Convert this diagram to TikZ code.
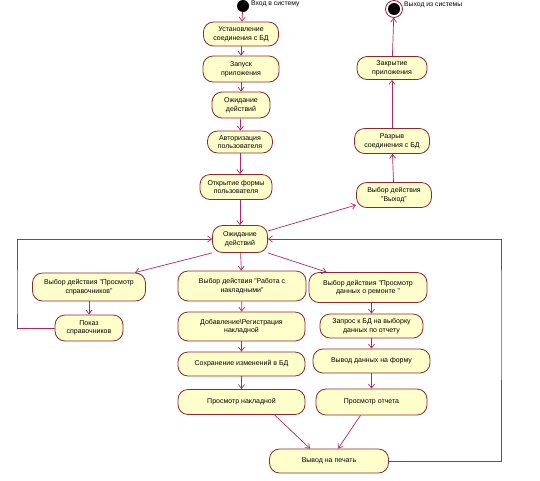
\documentclass[tikz,border=0pt]{standalone}
\usepackage{fontspec}
\setmainfont{Liberation Sans}
\usepackage{tikz}
\usetikzlibrary{arrows.meta,positioning,calc}
\usepackage{xcolor}
\definecolor{linecol}{RGB}{176,40,100}
\definecolor{boxline}{RGB}{140,40,50}
\definecolor{boxfill}{RGB}{255,255,204}

\begin{document}
\begin{tikzpicture}[
        x=1pt, y=-1pt,
        act/.style={draw=boxline, fill=boxfill, rounded corners=10pt, align=center, line width=0.8pt,
            font=\fontsize{7}{8.6}\selectfont, inner sep=1pt},
        flow/.style={draw=linecol, line width=0.7pt, -{Straight Barb[length=4pt,width=6pt]}},
        lbl/.style={font=\fontsize{6.8}{8}\selectfont, anchor=west, inner sep=1pt}
    ]
    \useasboundingbox (0,0) rectangle (540,480);

    \fill (243,6) circle (6pt) node (start) [circle, minimum size=12pt, inner sep=0pt] {};
    \node[lbl] (startlbl) at (250,4) {Вход в систему};
    \draw[boxline, line width=0.8pt, fill=white] (394,9) circle (8.5pt);
    \fill (394,9) circle (6pt) node (stop) [circle, minimum size=17pt, inner sep=0pt] {};
    \node[lbl] (stoplbl) at (403,5) {Выход из системы};

    \node[act, minimum width=75pt, minimum height=24pt] (conn) at (241,34) {Установление\\ соединения с БД};
    \node[act, minimum width=76pt, minimum height=26pt] (launch) at (241,69) {Запуск\\ приложения};
    \node[act, minimum width=58pt, minimum height=26pt] (wait) at (241,105) {Ожидание\\ действий};
    \node[act, minimum width=65pt, minimum height=22pt] (auth) at (240,142) {Авторизация\\ пользователя};
    \node[act, minimum width=72pt, minimum height=25pt] (form) at (236,187) {Открытие формы\\ пользователя};
    \node[act, minimum width=55pt, minimum height=27pt] (idle) at (240,239) {Ожидание\\ действий};

    \node[act, minimum width=70pt, minimum height=23pt] (close) at (392,68) {Закрытие\\ приложения};
    \node[act, minimum width=75pt, minimum height=25pt] (disc) at (392,141) {Разрыв\\ соединения с БД};
    \node[act, minimum width=75pt, minimum height=25pt] (quit) at (394,195) {Выбор действия\\ "Выход"};

    \node[act, minimum width=113pt, minimum height=28pt] (refsel) at (89,287) {Выбор действия "Просмотр\\ справочников"};
    \node[act, minimum width=68pt, minimum height=26pt] (refshow) at (89,328) {Показ\\ справочников};

    \node[act, minimum width=128pt, minimum height=30pt] (invsel) at (242,286) {Выбор действия "Работа с\\ накладными"};
    \node[act, minimum width=127pt, minimum height=29pt] (invadd) at (241.5,326.5) {Добавление\textbackslash Регистрация\\ накладной};
    \node[act, minimum width=127pt, minimum height=24pt] (invsave) at (241.5,364) {Сохранение изменений в БД};
    \node[act, minimum width=127pt, minimum height=25pt] (invview) at (241.5,402) {Просмотр накладной};

    \node[act, minimum width=118pt, minimum height=30pt] (repsel) at (368,287.5) {Выбор действия "Просмотр\\ данных о ремонте "};
    \node[act, minimum width=103pt, minimum height=24pt] (repquery) at (371.5,326) {Запрос к БД на выборку\\ данных по отчету};
    \node[act, minimum width=117pt, minimum height=24pt] (repout) at (371.5,361) {Вывод данных на форму};
    \node[act, minimum width=111pt, minimum height=26pt] (repview) at (371.5,402) {Просмотр отчета};

    \node[act, minimum width=119pt, minimum height=24pt] (print) at (329,461) {Вывод на печать};

    \coordinate (lloop) at (17,300);
    \coordinate (rloop) at (501,300);

    \draw[flow] (start) -- (conn);
    \draw[flow] (conn) -- (launch);
    \draw[flow] (launch) -- (wait);
    \draw[flow] (wait) -- (auth);
    \draw[flow] (auth.south) -- (auth.south |- form.north);
    \draw[flow] (form.south -| idle.north) -- (idle.north);

    \draw[flow] (idle.east |- 0,231) -- (quit.west |- 0,205);
    \draw[flow] (quit) -- (disc);
    \draw[flow] (disc) -- (close);
    \draw[flow] (close) -- (stop);

    \draw[flow] (idle.south west) -- ([xshift=-11pt]refsel.north east);
    \draw[flow] (refsel) -- (refshow);
    \draw[flow] (refshow.west) -| (lloop) |- (idle.west);

    \draw[flow] (idle) -- (invsel);
    \draw[flow] (invsel) -- (invadd);
    \draw[flow] (invadd) -- (invsave);
    \draw[flow] (invsave) -- (invview);
    \draw[flow] ([xshift=33pt]invview.south) -- ([xshift=-19pt]print.north);

    \draw[flow] (idle.south east) -- ([xshift=18pt]repsel.north west);
    \draw[flow] (repsel.south -| repquery.north) -- (repquery.north);
    \draw[flow] (repquery) -- (repout);
    \draw[flow] (repout) -- (repview);
    \draw[flow] ([xshift=-11pt]repview.south) -- ([xshift=9pt]print.north);

    \draw[flow] (print.east) -| (rloop) |- (idle.east);
\end{tikzpicture}
\end{document}
